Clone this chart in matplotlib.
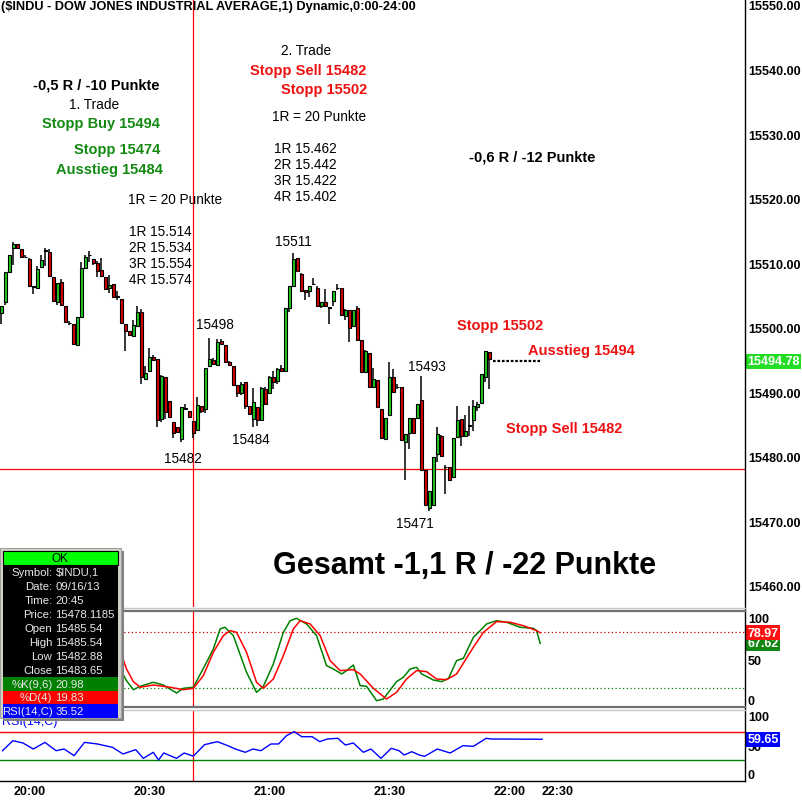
import matplotlib
matplotlib.use("Agg")
import matplotlib.pyplot as plt
from matplotlib.patches import Rectangle

plt.rcParams['font.family'] = ['Liberation Sans', 'DejaVu Sans']

# 1-minute candles, $INDU 16.09.2013 (bar 48 = 20:45)
opens = [15502.2, 15503.9, 15508.6, 15512.4, 15512.9, 15512.1, 15510.9, 15510.6, 15506.3, 15506.2,
         15509.4, 15511.9, 15511.7, 15507.9, 15504.0, 15507.0, 15503.3, 15500.7, 15500.6, 15497.3,
         15501.6, 15509.3, 15511.2, 15510.6, 15510.0, 15508.9, 15507.9, 15506.1, 15506.7, 15504.8,
         15504.4, 15500.5, 15499.5, 15498.7, 15500.3, 15502.4, 15492.0, 15493.3, 15495.5, 15495.1,
         15485.8, 15492.4, 15488.6, 15485.4, 15484.6, 15482.7, 15487.4, 15487.1, 15485.54, 15484.1,
         15487.9, 15487.3, 15494.0, 15495.0, 15494.2, 15497.9, 15497.3, 15494.6, 15494.0, 15491.1,
         15489.9, 15491.5, 15487.8, 15485.8, 15487.6, 15485.7, 15490.4, 15489.8, 15492.3, 15491.7,
         15493.7, 15493.2, 15503.1, 15506.5, 15510.8, 15508.3, 15505.8, 15505.6, 15506.7, 15506.2,
         15503.4, 15503.9, 15503.1, 15504.1, 15506.1, 15506.1, 15501.8, 15502.7, 15500.3, 15503.0,
         15498.0, 15493.1, 15496.0, 15490.7, 15491.9, 15487.4, 15482.7, 15486.4, 15492.3, 15490.7,
         15490.7, 15482.2, 15483.6, 15485.9, 15485.9, 15488.8, 15477.9, 15472.0, 15472.5, 15480.4,
         15483.2, 15478.3, 15478.3, 15476.8, 15483.0, 15485.8, 15483.2, 15484.8, 15485.6, 15487.6,
         15488.3, 15492.4, 15496.2]
highs = [15503.3, 15508.6, 15511.2, 15513.2, 15512.9, 15512.1, 15511.3, 15510.8, 15506.3, 15509.5,
         15511.2, 15512.3, 15512.2, 15507.9, 15506.9, 15507.5, 15503.3, 15501.0, 15500.6, 15501.7,
         15510.1, 15511.2, 15511.8, 15510.6, 15510.3, 15510.8, 15507.9, 15508.1, 15506.7, 15505.6,
         15504.4, 15500.5, 15499.5, 15501.1, 15503.4, 15502.8, 15494.0, 15496.9, 15495.7, 15495.1,
         15492.6, 15492.4, 15488.6, 15485.4, 15484.6, 15487.6, 15488.1, 15487.1, 15485.54, 15489.2,
         15487.9, 15493.7, 15498.3, 15495.2, 15498.2, 15498.2, 15497.3, 15494.8, 15494.0, 15491.1,
         15491.5, 15491.5, 15487.8, 15490.6, 15487.6, 15490.8, 15490.8, 15492.5, 15493.2, 15493.8,
         15494.2, 15503.0, 15506.4, 15511.5, 15510.8, 15508.4, 15505.8, 15506.5, 15507.6, 15506.4,
         15503.9, 15505.9, 15503.2, 15505.7, 15506.8, 15506.1, 15502.9, 15502.7, 15502.7, 15503.3,
         15498.0, 15496.5, 15496.0, 15493.7, 15491.9, 15487.4, 15485.9, 15494.6, 15493.6, 15491.2,
         15490.7, 15483.5, 15485.9, 15485.9, 15488.2, 15492.5, 15477.9, 15474.7, 15479.9, 15484.5,
         15483.3, 15478.7, 15478.3, 15482.8, 15487.9, 15485.8, 15486.4, 15487.9, 15488.7, 15488.4,
         15492.8, 15496.4, 15496.2]
lows = [15500.5, 15503.5, 15508.6, 15509.7, 15512.1, 15511.0, 15510.9, 15506.5, 15505.2, 15506.2,
        15509.4, 15509.5, 15508.0, 15504.1, 15503.5, 15503.5, 15500.8, 15500.4, 15497.5, 15497.3,
        15501.6, 15509.0, 15510.1, 15509.7, 15507.9, 15508.0, 15505.9, 15505.4, 15504.8, 15504.2,
        15500.7, 15496.3, 15498.8, 15498.7, 15500.3, 15491.3, 15492.0, 15493.3, 15494.9, 15484.5,
        15485.4, 15485.8, 15486.2, 15482.8, 15483.8, 15482.2, 15487.3, 15486.1, 15482.88, 15484.1,
        15486.7, 15486.7, 15494.0, 15494.3, 15494.2, 15497.4, 15494.6, 15494.1, 15491.1, 15489.3,
        15489.6, 15487.4, 15486.5, 15484.6, 15484.8, 15485.6, 15488.2, 15489.8, 15490.5, 15491.2,
        15493.2, 15493.2, 15502.4, 15506.5, 15508.7, 15505.7, 15504.3, 15504.7, 15506.6, 15503.3,
        15503.1, 15503.4, 15500.5, 15503.4, 15505.8, 15502.0, 15501.1, 15497.7, 15500.3, 15498.1,
        15493.1, 15493.1, 15490.8, 15490.7, 15487.6, 15482.9, 15482.7, 15486.4, 15490.0, 15490.5,
        15482.5, 15476.3, 15481.2, 15483.6, 15485.9, 15477.9, 15472.5, 15471.5, 15472.5, 15479.1,
        15480.1, 15474.2, 15476.3, 15476.8, 15483.0, 15481.7, 15483.2, 15483.2, 15484.0, 15487.1,
        15488.3, 15491.5, 15490.4]
closes = [15503.3, 15508.6, 15511.2, 15512.9, 15512.4, 15511.0, 15510.9, 15506.5, 15506.3, 15509.1,
          15510.4, 15511.9, 15508.0, 15504.1, 15506.9, 15503.5, 15500.8, 15500.7, 15497.5, 15501.7,
          15509.2, 15511.0, 15511.2, 15510.0, 15508.7, 15508.0, 15505.9, 15506.6, 15504.8, 15504.8,
          15500.7, 15499.5, 15498.8, 15500.4, 15502.4, 15492.3, 15492.9, 15495.4, 15494.9, 15485.6,
          15492.5, 15486.9, 15486.2, 15483.6, 15483.8, 15487.6, 15487.4, 15486.1, 15483.65, 15488.0,
          15487.1, 15493.7, 15495.1, 15494.3, 15497.8, 15497.4, 15494.6, 15494.2, 15491.1, 15489.8,
          15491.2, 15487.9, 15486.6, 15488.4, 15485.7, 15490.6, 15488.2, 15492.3, 15491.5, 15493.6,
          15493.2, 15503.0, 15506.4, 15510.6, 15508.7, 15505.7, 15505.5, 15506.5, 15506.7, 15503.3,
          15503.9, 15503.4, 15503.1, 15505.6, 15506.1, 15502.0, 15502.7, 15500.0, 15502.7, 15498.1,
          15493.1, 15496.4, 15490.8, 15492.0, 15487.6, 15482.9, 15485.9, 15492.3, 15490.0, 15490.7,
          15482.5, 15483.5, 15485.9, 15483.6, 15488.2, 15477.9, 15472.5, 15474.7, 15479.9, 15483.5,
          15480.1, 15478.3, 15476.3, 15482.8, 15485.7, 15483.2, 15484.0, 15484.8, 15487.9, 15488.1,
          15492.8, 15496.4, 15495.1]

# after-hours flat part (dotted)
ah_bars = [123, 135]
ah_price = [15494.78, 15494.78]
last_price = 15494.78
cross_bar = 48
cross_price = 15478.1185

# Stochastic %K / %D (bar position, value)
k_bars = [29.7, 31.3, 33.0, 34.7, 38.0, 40.5, 43.8, 45.5, 48.0, 51.3, 53.0, 54.7, 55.9, 58.0,
          61.3, 63.8, 65.5, 68.0, 70.5, 72.2, 73.8, 76.3, 78.8, 81.3, 83.0, 85.1, 86.3, 88.0,
          89.7, 91.3, 93.8, 95.5, 98.8, 100.5, 102.2, 103.8, 105.1, 108.0, 110.1, 111.8, 113.8,
          115.5, 118.0, 119.7, 121.3, 123.8, 126.3, 129.7, 133.0, 133.8, 134.7]
k_vals = [40.4, 28.0, 18.4, 22.0, 26.3, 23.4, 14.9, 19.9, 20.98, 47.5, 61.7, 83.0, 84.8, 75.9,
          36.9, 15.6, 22.0, 45.8, 79.4, 91.8, 94.3, 88.3, 75.9, 44.0, 40.4, 35.1, 38.7, 44.7,
          22.7, 22.0, 6.7, 8.5, 27.0, 31.6, 40.4, 42.2, 35.1, 28.7, 27.0, 30.5, 49.3,
          51.8, 74.1, 81.2, 88.3, 91.8, 90.1, 84.8, 83.7, 81.2, 67.62]
d_bars = [29.7, 31.3, 33.0, 34.7, 38.0, 42.2, 45.5, 48.0, 50.5, 53.0, 55.5, 57.2, 58.8, 61.3,
          63.8, 65.5, 68.0, 70.5, 73.0, 74.7, 77.2, 79.7, 82.2, 84.7, 88.0, 89.7, 93.0, 96.3,
          98.8, 101.3, 103.8, 106.3, 108.8, 111.3, 113.8, 118.0, 120.5, 123.8, 127.2, 130.5,
          133.8, 134.7]
d_vals = [59.9, 40.4, 27.0, 21.0, 23.4, 21.0, 18.4, 19.83, 33.3, 58.2, 75.9, 81.2, 79.4, 58.2,
          26.3, 19.9, 29.8, 54.6, 83.0, 91.8, 88.3, 75.9, 49.3, 38.7, 39.7, 35.1, 19.9, 8.5,
          15.6, 29.8, 38.7, 37.6, 29.8, 29.1, 35.1, 63.5, 79.4, 90.8, 90.1, 86.5,
          81.2, 78.97]

# RSI(14)
rsi_bars = [0.3, 2.9, 5.4, 8.0, 10.9, 13.7, 15.7, 18.2, 20.8, 24.0, 27.8, 30.4, 33.6, 35.5,
            38.0, 39.3, 40.6, 43.8, 45.7, 48.0, 50.8, 54.0, 56.6, 58.5, 61.0, 62.9, 64.9, 67.4,
            69.3, 71.3, 73.2, 75.1, 77.7, 79.6, 81.5, 84.1, 86.0, 88.0, 90.5, 92.4, 94.9, 97.5,
            99.4, 100.7, 102.6, 104.5, 105.8, 109.0, 112.2, 115.4, 118.0, 121.2, 122.4, 135.2]
rsi_vals = [43.3, 57.6, 54.3, 45.7, 55.2, 43.3, 45.7, 36.2, 55.2, 52.9, 48.1, 38.6, 44.8, 32.4,
            41.0, 30.0, 40.0, 32.4, 40.0, 35.52, 51.9, 56.2, 50.5, 45.7, 41.0, 45.7, 43.3, 52.9,
            52.9, 64.8, 70.5, 63.3, 63.3, 56.2, 60.0, 61.0, 51.4, 54.3, 41.0, 45.7, 32.4, 46.7,
            43.3, 37.1, 41.9, 37.1, 35.2, 45.7, 40.0, 50.5, 49.5, 61.0, 60.0, 59.65]

time_ticks = [3, 33, 63, 93, 123, 135]
time_labels = ["20:00", "20:30", "21:00", "21:30", "22:00", "22:30"]
price_ticks = list(range(15460, 15551, 10))

W, H = 802, 804
GREEN = "#1ec81e"
RED = "#d40000"
TXT_GREEN = "#128a12"
TXT_RED = "#ee1111"
LBL = 9

fig = plt.figure(figsize=(W / 100, H / 100), dpi=100)


def rect(top, bottom, left=0, right=745):
    return [left / W, 1 - bottom / H, (right - left) / W, (bottom - top) / H]


ax = fig.add_axes(rect(0, 608))
ax_k = fig.add_axes(rect(612, 708))
ax_r = fig.add_axes(rect(712, 782))

for a in (ax, ax_k, ax_r):
    a.set_xlim(-0.325, 185.9)
    for s in a.spines.values():
        s.set_visible(False)
    a.yaxis.tick_right()
    a.tick_params(axis='y', length=0, pad=2, labelsize=LBL)
    a.tick_params(axis='x', length=0)
    a.set_xticks([])
    a.axvline(cross_bar, color='red', lw=0.9, zorder=0)

# --- price panel
for i in range(len(opens)):
    o, h, l, c = opens[i], highs[i], lows[i], closes[i]
    ax.vlines(i, l, h, color='black', lw=1.1, zorder=2)
    col = GREEN if c > o else (RED if c < o else 'black')
    ax.bar(i, max(abs(c - o), 0.06), bottom=min(o, c), width=0.75,
           color=col, edgecolor='black', linewidth=0.8, zorder=3)
ax.plot(ah_bars, ah_price, color='black', ls=(0, (1.2, 0.8)), lw=1.6, zorder=3)
ax.axhline(cross_price, color='red', lw=0.9, zorder=1)
ax.set_ylim(15456.67, 15550.93)
ax.set_yticks(price_ticks)
ax.set_yticklabels([f"{p:.2f}" for p in price_ticks], fontweight='bold')
ax.text(1.003, last_price, f"{last_price:.2f}", transform=ax.get_yaxis_transform(),
        ha='left', va='center', color='white', fontsize=LBL, fontweight='bold',
        bbox=dict(fc='#22dd22', ec='none', pad=1.0), clip_on=False)

# --- stochastic panel
ax_k.plot(k_bars, k_vals, color='#008000', lw=1.1, zorder=3)
ax_k.plot(d_bars, d_vals, color='#ff0000', lw=1.1, zorder=3)
ax_k.axhline(80, color='#cc0000', ls=(0, (1, 2)), lw=0.9)
ax_k.axhline(20, color='#008000', ls=(0, (1, 2)), lw=0.9)
ax_k.set_ylim(0, 102.1)
ax_k.set_yticks([0, 50, 100])
ax_k.set_yticklabels(['0', '50', '100'], fontweight='bold')
ax_k.text(1.003, d_vals[-1], f"{d_vals[-1]:.2f}", transform=ax_k.get_yaxis_transform(),
          ha='left', va='center', color='white', fontsize=LBL, fontweight='bold',
          bbox=dict(fc='#ff1010', ec='none', pad=1.0), clip_on=False, zorder=6)
ax_k.text(1.003, k_vals[-1], f"{k_vals[-1]:.2f}", transform=ax_k.get_yaxis_transform(),
          ha='left', va='center', color='white', fontsize=LBL, fontweight='bold',
          bbox=dict(fc='#118811', ec='none', pad=1.0), clip_on=False, zorder=5)

# --- RSI panel
ax_r.plot(rsi_bars, rsi_vals, color='#0000ff', lw=1, zorder=3)
ax_r.axhline(70, color='red', lw=1)
ax_r.axhline(30, color='#008000', lw=1)
ax_r.set_ylim(0, 100)
ax_r.set_yticks([0, 50, 100])
ax_r.set_yticklabels(['0', '50', '100'], fontweight='bold')
ax_r.text(1.003, rsi_vals[-1], f"{rsi_vals[-1]:.2f}", transform=ax_r.get_yaxis_transform(),
          ha='left', va='center', color='white', fontsize=LBL, fontweight='bold',
          bbox=dict(fc='#0000ff', ec='none', pad=1.0), clip_on=False)
ax_r.set_xticks(time_ticks)
ax_r.set_xticklabels(time_labels, ha='left', fontweight='bold', fontsize=LBL)
ax_r.tick_params(axis='x', pad=3)

for a in (ax_k, ax_r):
    labs = a.get_yticklabels()
    labs[0].set_va('bottom')
    labs[2].set_va('top')

# --- overlay in pixel coordinates: frames, texts, data window
ov = fig.add_axes([0, 0, 1, 1], zorder=5)
ov.set_xlim(0, W)
ov.set_ylim(H, 0)
ov.axis('off')
ov.patch.set_alpha(0)

ov.plot([745, 745], [0, 782], color='black', lw=1)
ov.plot([0, 745], [782, 782], color='black', lw=1)
ov.plot([0, 745], [609, 609], color='#c8c8c8', lw=1)
ov.plot([0, 745], [611.5, 611.5], color='#707070', lw=1.6)
ov.plot([0, 745], [708, 708], color='#707070', lw=1.6)
ov.plot([0, 745], [710.5, 710.5], color='#c8c8c8', lw=1)

ov.text(1, 7, "($INDU - DOW JONES INDUSTRIAL AVERAGE,1) Dynamic,0:00-24:00",
        ha='left', va='center', fontsize=9.2, fontweight='bold')

notes = [
    ("-0,5 R / -10 Punkte", 96.5, 85, 'black', 'bold', 10.5, 'center'),
    ("1. Trade", 94, 105, 'black', 'normal', 9.8, 'center'),
    ("Stopp Buy 15494", 100.5, 124, TXT_GREEN, 'bold', 10.5, 'center'),
    ("Stopp 15474", 117.5, 150, TXT_GREEN, 'bold', 10.5, 'center'),
    ("Ausstieg 15484", 109.5, 170, TXT_GREEN, 'bold', 10.5, 'center'),
    ("1R = 20 Punkte", 175.5, 200, 'black', 'normal', 9.8, 'center'),
    ("1R 15.514", 129, 232, 'black', 'normal', 9.8, 'left'),
    ("2R 15.534", 129, 248, 'black', 'normal', 9.8, 'left'),
    ("3R 15.554", 129, 264, 'black', 'normal', 9.8, 'left'),
    ("4R 15.574", 129, 280, 'black', 'normal', 9.8, 'left'),
    ("2. Trade", 306, 51, 'black', 'normal', 9.8, 'center'),
    ("Stopp Sell 15482", 308, 71, TXT_RED, 'bold', 10.5, 'center'),
    ("Stopp 15502", 324.5, 90, TXT_RED, 'bold', 10.5, 'center'),
    ("1R = 20 Punkte", 319.5, 117, 'black', 'normal', 9.8, 'center'),
    ("1R 15.462", 274, 149, 'black', 'normal', 9.8, 'left'),
    ("2R 15.442", 274, 165, 'black', 'normal', 9.8, 'left'),
    ("3R 15.422", 274, 181, 'black', 'normal', 9.8, 'left'),
    ("4R 15.402", 274, 197, 'black', 'normal', 9.8, 'left'),
    ("15511", 293.5, 242, 'black', 'normal', 9.8, 'center'),
    ("-0,6 R / -12 Punkte", 532.5, 158, 'black', 'bold', 10.5, 'center'),
    ("15498", 215, 325, 'black', 'normal', 9.8, 'center'),
    ("Stopp 15502", 500.5, 326, TXT_RED, 'bold', 10.5, 'center'),
    ("Ausstieg 15494", 581.5, 351, TXT_RED, 'bold', 10.5, 'center'),
    ("15493", 427, 367, 'black', 'normal', 9.8, 'center'),
    ("Stopp Sell 15482", 564, 429, TXT_RED, 'bold', 10.5, 'center'),
    ("15484", 250.5, 440, 'black', 'normal', 9.8, 'center'),
    ("15482", 182.5, 459, 'black', 'normal', 9.8, 'center'),
    ("15471", 414.5, 524, 'black', 'normal', 9.8, 'center'),
    ("Gesamt -1,1 R / -22 Punkte", 465, 566, 'black', 'bold', 22, 'center'),
]
for txt, x, y, col, wt, sz, ha in notes:
    ov.text(x, y, txt, color=col, fontweight=wt, fontsize=sz, ha=ha, va='center')

# RSI panel caption, mostly under the data window
ov.text(2, 722, "RSI(14,C)", color='#0000ff', fontsize=9, ha='left', va='center', zorder=1)

# data window
ov.add_patch(Rectangle((3, 552), 121, 170, fc='#808080', ec='none', zorder=2))
ov.add_patch(Rectangle((0, 549), 121, 170, fc='#d4d0c8', ec='#a0a0a0', lw=0.8, zorder=3))
ov.add_patch(Rectangle((3, 552), 115, 14, fc='#00ff00', ec='black', lw=0.8, zorder=4))
ov.add_patch(Rectangle((3, 566), 115, 112, fc='black', ec='none', zorder=4))
ov.add_patch(Rectangle((3, 678), 115, 14, fc='#008000', ec='none', zorder=4))
ov.add_patch(Rectangle((3, 692), 115, 13, fc='#ff0000', ec='none', zorder=4))
ov.add_patch(Rectangle((3, 705), 115, 14, fc='#0000ff', ec='none', zorder=4))
ov.text(60, 559, "OK", fontsize=8.5, ha='center', va='center', zorder=5)
rows = [("Symbol:", "$INDU,1", 573), ("Date:", "09/16/13", 587), ("Time:", "20:45", 601),
        ("Price:", "15478.1185", 615), ("Open", "15485.54", 629), ("High", "15485.54", 643),
        ("Low", "15482.88", 657), ("Close", "15483.65", 671), ("%K(9,6)", "20.98", 685),
        ("%D(4)", "19.83", 698.5), ("RSI(14,C)", "35.52", 712)]
for lab, val, y in rows:
    ov.text(52.5, y, lab, color='#e8e8e8', fontsize=8.2, ha='right', va='center', zorder=5)
    ov.text(55.5, y, val, color='#e8e8e8', fontsize=8.2, ha='left', va='center', zorder=5)

fig.savefig("out.png", dpi=100)
